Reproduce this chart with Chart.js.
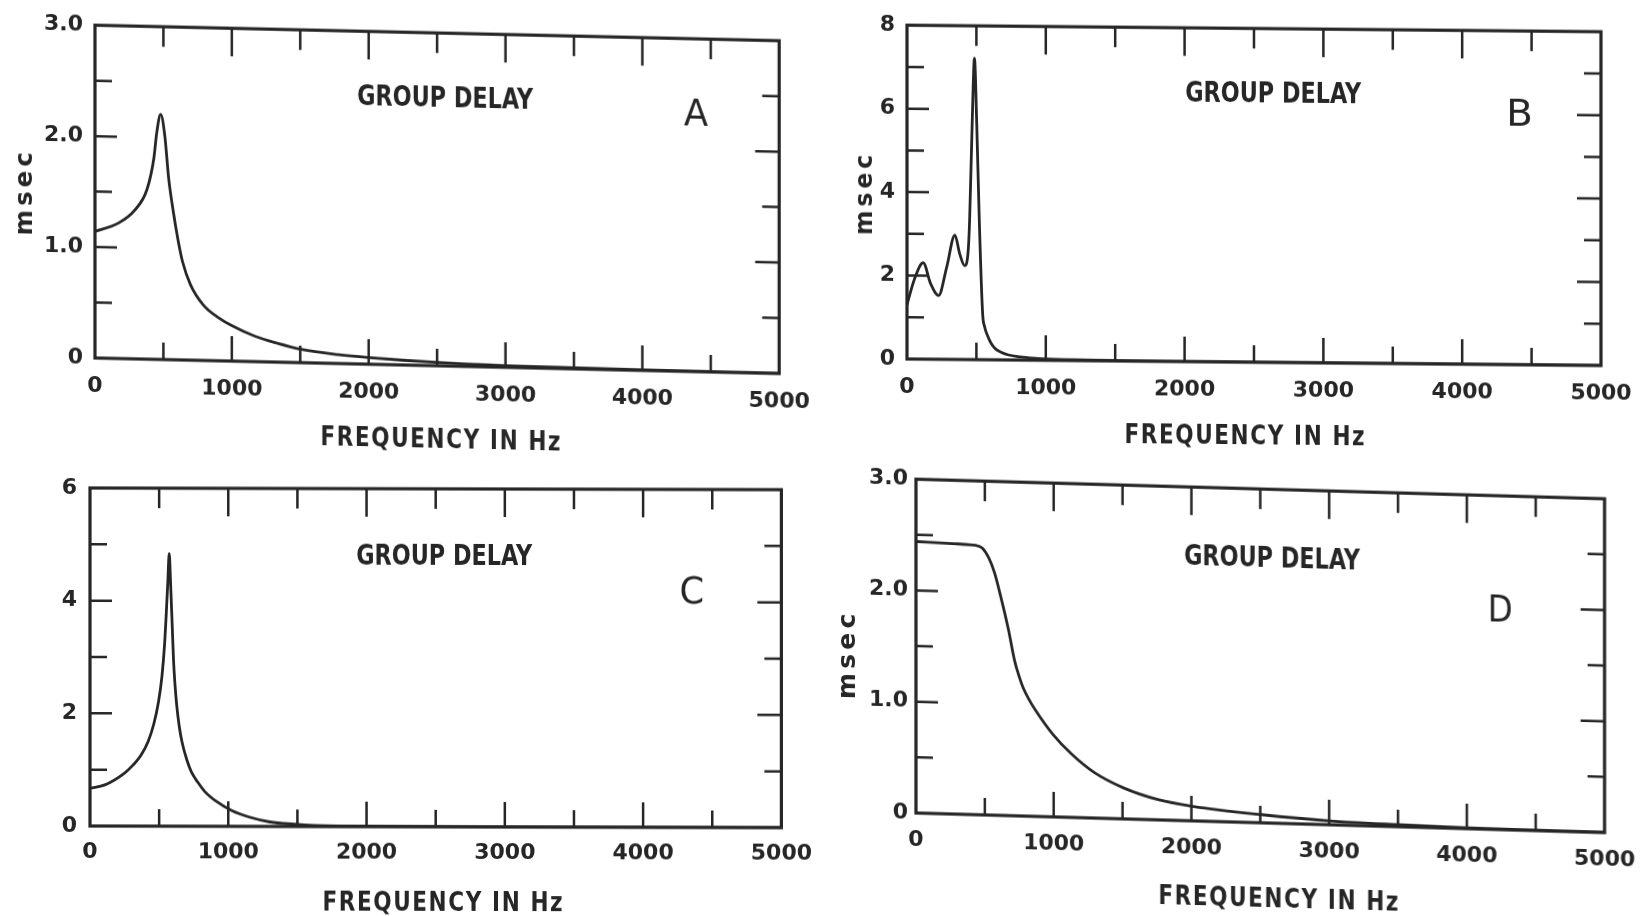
<!DOCTYPE html>
<html><head><meta charset="utf-8">
<script src="https://cdn.jsdelivr.net/npm/chart.js@4.4.1/dist/chart.umd.min.js"></script>
<style>
html,body{margin:0;padding:0;background:#fff;width:1650px;height:916px;overflow:hidden}
.panel{position:absolute;width:825px;height:458px}
canvas{display:block}
</style></head><body>
<div class="panel" id="pA"><canvas id="cA" width="825" height="458"></canvas></div>
<div class="panel" id="pB"><canvas id="cB" width="825" height="458"></canvas></div>
<div class="panel" id="pC"><canvas id="cC" width="825" height="458"></canvas></div>
<div class="panel" id="pD"><canvas id="cD" width="825" height="458"></canvas></div>
<script>
// ---------- data ----------
const freqA  = [0,170,290,380,430,451,480,510,538,568,604,639,698,792,908,1000,1167,1333,1507,1777,2000,2500,3000,4000,5000];
const delayA = [1.14,1.22,1.34,1.53,1.81,2.04,2.21,2.02,1.64,1.37,1.10,0.89,0.68,0.50,0.385,0.32,0.23,0.17,0.12,0.08,0.06,0.03,0.015,0.005,0.0];

const freqB  = [0,51,117,169,228,286,345,380,415,439,451,470,486,502,521,545,560,580,605,638,680,732,800,897,1000,1200,1500,2000,5000];
const delayB = [1.30,1.89,2.31,1.82,1.53,2.21,2.98,2.53,2.25,2.53,3.32,5.71,7.22,5.71,3.32,1.10,0.78,0.58,0.40,0.26,0.18,0.12,0.08,0.05,0.03,0.02,0.01,0.005,0.0];

const freqC  = [0,107,249,310,367,420,462,495,520,540,552,563,573,583,594,604,615,627,645,665,700,734,780,829,915,1025,1160,1300,1550,2000,3000,5000];
const delayC = [0.67,0.73,0.94,1.08,1.25,1.50,1.82,2.20,2.65,3.25,3.80,4.35,4.84,4.30,3.60,2.95,2.50,2.15,1.78,1.50,1.18,0.96,0.78,0.62,0.44,0.28,0.16,0.08,0.03,0.01,0.003,0.0];

const freqD  = [0,270,435,480,529,570,611,670,717,750,776,820,870,995,1129,1294,1505,1764,2015,2505,3000,3500,4000,5000];
const delayD = [2.44,2.43,2.42,2.40,2.31,2.18,1.99,1.68,1.39,1.25,1.16,1.05,0.95,0.74,0.57,0.41,0.28,0.18,0.13,0.074,0.035,0.018,0.008,0.003];

const xTickLabels  = ['0','1000','2000','3000','4000','5000'];
const yTickLabelsA = ['0','1.0','2.0','3.0'];
const yTickLabelsB = ['0','2','4','6','8'];
const yTickLabelsC = ['0','2','4','6'];
const yTickLabelsD = ['0','1.0','2.0','3.0'];

const panelLetters = ['A','B','C','D'];
const insideTitle = 'GROUP DELAY';
const xTitle = 'FREQUENCY IN Hz';
const yTitle = 'msec';

// ---------- layout / style ----------
const INK = '#262626';
const FONT = '"DejaVu Sans", "Liberation Sans", sans-serif';
const W = 825, H = 458;

const panels = [
  {id:'A', left:0,   top:0,   skew:1.30, plot:{l:95,r:792,t:23,b:358}, yMax:3, yStep:1, yMinor:0.5,
   yLabels:yTickLabelsA, freq:freqA, delay:delayA, letter:panelLetters[0], yPad:12, xPad:15,
   gd:{x:446,y:88}, lt:{x:696,y:99,w:24}, xt:{x:441,y:430}, yt:{x:25,y:195,len:80}},
  {id:'B', left:825, top:0,   skew:0.54, plot:{l:82,r:776,t:24,b:359}, yMax:8, yStep:2, yMinor:1,
   yLabels:yTickLabelsB, freq:freqB, delay:delayB, letter:panelLetters[1], yPad:12, xPad:15.5,
   gd:{x:449,y:88}, lt:{x:695,y:107,w:21}, xt:{x:420,y:431}, yt:{x:40,y:195,len:77}},
  {id:'C', left:0,   top:458, skew:0.14, plot:{l:90,r:794,t:30,b:368}, yMax:6, yStep:2, yMinor:1,
   yLabels:yTickLabelsC, freq:freqC, delay:delayC, letter:panelLetters[2], yPad:13, xPad:13,
   gd:{x:445,y:95}, lt:{x:692,y:131,w:21}, xt:{x:443,y:442}, yt:null},
  {id:'D', left:825, top:458, skew:1.63, plot:{l:91,r:788,t:20,b:355}, yMax:3, yStep:1, yMinor:0.5,
   yLabels:yTickLabelsD, freq:freqD, delay:delayD, letter:panelLetters[3], yPad:8, xPad:14.5,
   gd:{x:448,y:88}, lt:{x:676,y:134,w:21}, xt:{x:454,y:429}, yt:{x:23,y:200,len:82}}
];

function drawCentered(ctx, text, cx, cy, targetW, font, size, spacing) {
  ctx.save();
  ctx.font = font;
  ctx.letterSpacing = spacing + 'px';
  ctx.textAlign = 'left';
  ctx.textBaseline = 'alphabetic';
  const m = ctx.measureText(text);
  const iw = m.actualBoundingBoxLeft + m.actualBoundingBoxRight;
  ctx.translate(cx, cy);
  ctx.scale(targetW / iw, 1);
  ctx.fillText(text, -(m.actualBoundingBoxRight - m.actualBoundingBoxLeft) / 2, size * 0.729 / 2);
  ctx.restore();
}

function drawVertical(ctx, text, cx, cy, targetLen, font, size, spacing) {
  ctx.save();
  ctx.font = font;
  ctx.letterSpacing = spacing + 'px';
  ctx.textAlign = 'left';
  ctx.textBaseline = 'alphabetic';
  const m = ctx.measureText(text);
  const iw = m.actualBoundingBoxLeft + m.actualBoundingBoxRight;
  ctx.translate(cx, cy);
  ctx.rotate(-Math.PI / 2);
  ctx.scale(targetLen / iw, 1);
  ctx.fillText(text, -(m.actualBoundingBoxRight - m.actualBoundingBoxLeft) / 2, size * 0.547 / 2);
  ctx.restore();
}

function makeDecor(p) {
  return {
    id: 'decor' + p.id,
    afterDatasetsDraw(chart) {
      const {ctx, chartArea: a, scales: {x, y}} = chart;
      ctx.save();
      ctx.strokeStyle = INK;
      ctx.fillStyle = INK;
      ctx.lineWidth = 3.2;
      ctx.strokeRect(a.left, a.top, a.right - a.left, a.bottom - a.top);
      ctx.lineWidth = 2.5;
      ctx.beginPath();
      for (let v = 500; v < 5000; v += 500) {
        const px = x.getPixelForValue(v);
        const major = v % 1000 === 0;
        ctx.moveTo(px, a.top);    ctx.lineTo(px, a.top + (major ? 28 : 20));
        ctx.moveTo(px, a.bottom); ctx.lineTo(px, a.bottom - (major ? 25 : 17));
      }
      const n = Math.round(p.yMax / p.yMinor);
      for (let i = 1; i < n; i++) {
        const v = i * p.yMinor;
        const py = y.getPixelForValue(v);
        const major = Math.abs(v / p.yStep - Math.round(v / p.yStep)) < 1e-6;
        ctx.moveTo(a.left, py);  ctx.lineTo(a.left + (major ? 22 : 17), py);
        ctx.moveTo(a.right, py); ctx.lineTo(a.right - (major ? 24 : 17), py);
      }
      ctx.stroke();
      drawCentered(ctx, insideTitle, p.gd.x, p.gd.y, 176, 'bold 29px ' + FONT, 29, 0);
      drawCentered(ctx, p.letter, p.lt.x, p.lt.y, p.lt.w, '37px ' + FONT, 37, 0);
      drawCentered(ctx, xTitle, p.xt.x, p.xt.y, 238, 'bold 27px ' + FONT, 27, 2);
      if (p.yt) drawVertical(ctx, yTitle, p.yt.x, p.yt.y, p.yt.len, 'bold 24px ' + FONT, 24, 4);
      ctx.restore();
    }
  };
}

function makeChart(p) {
  const div = document.getElementById('p' + p.id);
  div.style.left = p.left + 'px';
  div.style.top = p.top + 'px';
  div.style.transformOrigin = p.plot.l + 'px 0px';
  div.style.transform = 'skewY(' + p.skew + 'deg)';
  const pts = p.freq.map((f, i) => ({x: f, y: p.delay[i]}));
  return new Chart(document.getElementById('c' + p.id), {
    type: 'line',
    data: {datasets: [{data: pts, borderColor: INK, borderWidth: 2.8, pointRadius: 0,
                       fill: false, cubicInterpolationMode: 'monotone'}]},
    options: {
      responsive: false, animation: false, devicePixelRatio: 1,
      layout: {padding: {left: 0, top: p.plot.t, right: W - p.plot.r, bottom: 0}},
      plugins: {legend: {display: false}, tooltip: {enabled: false}},
      scales: {
        x: {type: 'linear', min: 0, max: 5000,
            afterFit: s => { s.height = H - p.plot.b; },
            ticks: {stepSize: 1000, padding: p.xPad, color: INK, maxRotation: 0, autoSkip: false,
                    font: {family: FONT, size: 22, weight: 'bold'}, callback: (v, i) => xTickLabels[i]},
            grid: {display: false, drawTicks: false}, border: {display: false}},
        y: {type: 'linear', min: 0, max: p.yMax,
            afterFit: s => { s.width = p.plot.l; },
            ticks: {stepSize: p.yStep, padding: p.yPad, color: INK,
                    font: {family: FONT, size: 22, weight: 'bold'}, callback: (v, i) => p.yLabels[i]},
            grid: {display: false, drawTicks: false}, border: {display: false}}
      }
    },
    plugins: [makeDecor(p)]
  });
}

panels.forEach(makeChart);
</script>
</body></html>
